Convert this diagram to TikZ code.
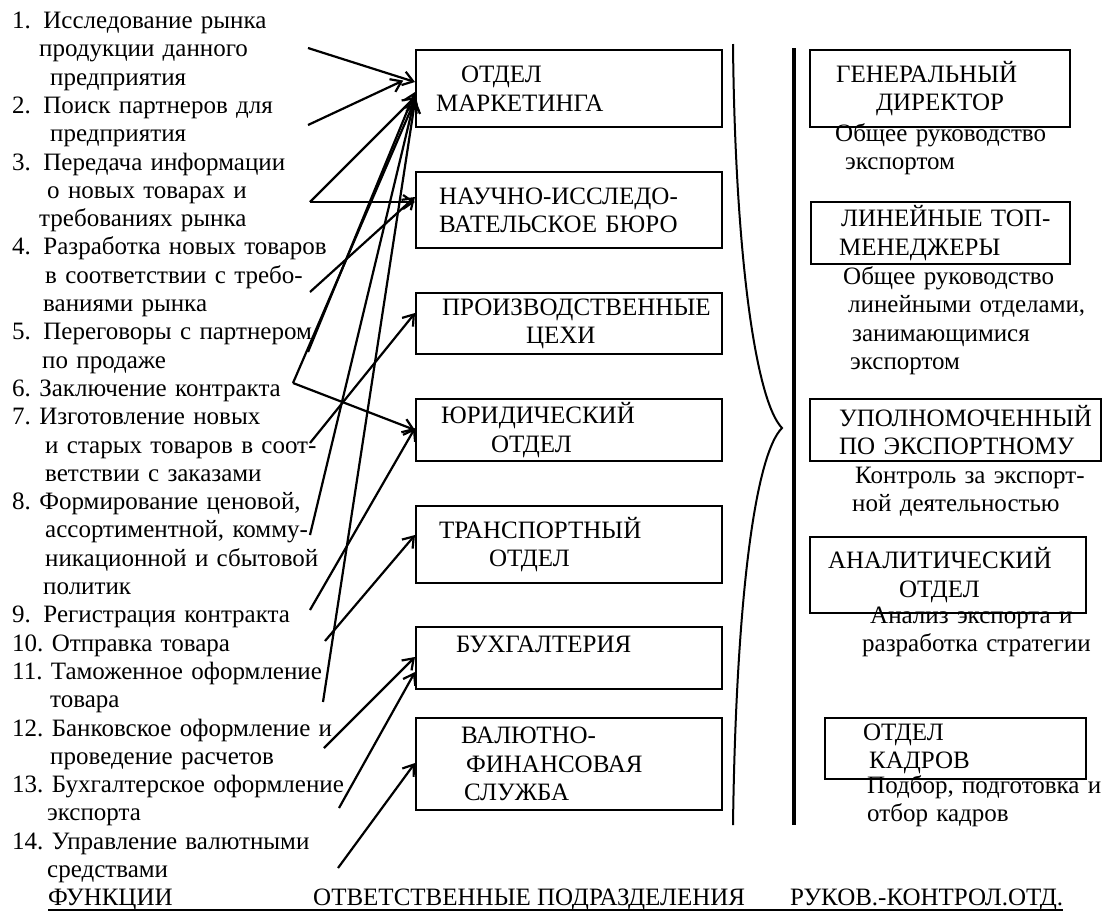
\documentclass[tikz,border=0pt]{standalone}
\usepackage{fontspec}
\setmainfont{Liberation Serif}
\usetikzlibrary{arrows.meta,calc}

\begin{document}
\frenchspacing
\begin{tikzpicture}[
    x=1pt, y=-1pt,
    every node/.style={font=\fontsize{25}{28.3}\selectfont},
    unit/.style={draw, line width=2.2pt, anchor=north west, align=left, inner xsep=8pt, inner ysep=0pt},
    func/.style={anchor=base west, inner sep=0pt, text width=380pt, align=left},
    note/.style={anchor=base west, inner sep=0pt, text width=275pt, align=left},
    arr/.style={-{Straight Barb[length=10pt,width=14pt]}, line width=2.2pt}
]
\useasboundingbox (0,0) rectangle (1106,914);

% Functions
\node[func] (f1) at (12,28.5) {1.\ \,Исследование рынка\\\hspace*{27pt}продукции данного\\\hspace*{38pt}предприятия};
\node[func] (f2) at (12,113.4) {2.\ \,Поиск партнеров для\\\hspace*{38pt}предприятия};
\node[func] (f3) at (12,170.0) {3.\ \,Передача информации\\\hspace*{35pt}о новых товарах и\\\hspace*{27pt}требованиях рынка};
\node[func] (f4) at (12,254.9) {4.\ \,Разработка новых товаров\\\hspace*{33pt}в соответствии с требо-\\\hspace*{31pt}ваниями рынка};
\node[func] (f5) at (12,339.8) {5.\ \,Переговоры с партнером\\\hspace*{30pt}по продаже};
\node[func] (f6) at (12,396.4) {6. Заключение контракта};
\node[func] (f7) at (12,424.7) {7. Изготовление новых\\\hspace*{33pt}и старых товаров в соот-\\\hspace*{33pt}ветствии с заказами};
\node[func] (f8) at (12,509.6) {8. Формирование ценовой,\\\hspace*{33pt}ассортиментной, комму-\\\hspace*{33pt}никационной и сбытовой\\\hspace*{31pt}политик};
\node[func] (f9) at (12,622.8) {9.\ \,Регистрация контракта};
\node[func] (f10) at (12,651.1) {10. Отправка товара};
\node[func] (f11) at (12,679.4) {11. Таможенное оформление\\\hspace*{38pt}товара};
\node[func] (f12) at (12,736.0) {12. Банковское оформление и\\\hspace*{38pt}проведение расчетов};
\node[func] (f13) at (12,792.6) {13. Бухгалтерское оформление\\\hspace*{35pt}экспорта};
\node[func] (f14) at (12,849.2) {14. Управление валютными\\\hspace*{35pt}средствами};

% Responsible units
\node[unit, text width=290pt, minimum height=77pt] (mkt) at (415,49) {\hspace*{37pt}ОТДЕЛ\\\hspace*{12pt}МАРКЕТИНГА};
\node[unit, text width=290pt, minimum height=76pt] (nib) at (415,171) {\hspace*{15pt}НАУЧНО-ИССЛЕДО-\\\hspace*{15pt}ВАТЕЛЬСКОЕ БЮРО};
\node[unit, text width=290pt, minimum height=61pt] (prod) at (415,292) {\hspace*{18pt}ПРОИЗВОДСТВЕННЫЕ\\\hspace*{102pt}ЦЕХИ};
\node[unit, text width=290pt, minimum height=62pt] (jur) at (415,398) {\hspace*{17pt}ЮРИДИЧЕСКИЙ\\\hspace*{67pt}ОТДЕЛ};
\node[unit, text width=290pt, minimum height=77pt] (trans) at (415,505) {\hspace*{15pt}ТРАНСПОРТНЫЙ\\\hspace*{65pt}ОТДЕЛ};
\node[unit, text width=290pt, minimum height=62pt] (buh) at (415,626) {\hspace*{32pt}БУХГАЛТЕРИЯ\\\mbox{}};
\node[unit, text width=290pt, minimum height=92pt] (val) at (415,717) {\hspace*{37pt}ВАЛЮТНО-\\\hspace*{42pt}ФИНАНСОВАЯ\\\hspace*{40pt}СЛУЖБА};

% Management and control
\node[unit, text width=244pt, minimum height=77pt] (gendir) at (809,49) {\hspace*{18pt}ГЕНЕРАЛЬНЫЙ\\\hspace*{58pt}ДИРЕКТОР};
\node[unit, text width=243pt, minimum height=62pt] (topm) at (810,201) {\hspace*{22pt}ЛИНЕЙНЫЕ ТОП-\\\hspace*{20pt}МЕНЕДЖЕРЫ};
\node[unit, text width=275pt, minimum height=62pt] (upol) at (809,398) {\hspace*{21pt}УПОЛНОМОЧЕННЫЙ\\\hspace*{21pt}ПО ЭКСПОРТНОМУ};
\node[unit, text width=260pt, minimum height=76pt] (anal) at (809,536) {\hspace*{10pt}АНАЛИТИЧЕСКИЙ\\\hspace*{81pt}ОТДЕЛ};
\node[unit, text width=245pt, minimum height=61pt] (kadr) at (824,717) {\hspace*{30pt}ОТДЕЛ\\\hspace*{36pt}КАДРОВ};

\node[note] (gendirnote) at (835,141.5) {Общее руководство\\\hspace*{10pt}экспортом};
\node[note] (topmnote) at (843,284.5) {Общее руководство\\\hspace*{5pt}линейными отделами,\\\hspace*{9pt}занимающимися\\\hspace*{7pt}экспортом};
\node[note] (upolnote) at (852,483.5) {\hspace*{3pt}Контроль за экспорт-\\ной деятельностью};
\node[note] (analnote) at (862,623.5) {\hspace*{8pt}Анализ экспорта и\\разработка стратегии};
\node[note] (kadrnote) at (867,793.5) {Подбор, подготовка и\\отбор кадров};

% Column titles
\node[anchor=base west, inner sep=0pt] (fn) at (48,905.8) {ФУНКЦИИ};
\node[anchor=base west, inner sep=0pt] (otv) at (313,905.8) {ОТВЕТСТВЕННЫЕ ПОДРАЗДЕЛЕНИЯ};
\node[anchor=base west, inner sep=0pt] (ruk) at (790,905.8) {РУКОВ.-КОНТРОЛ.ОТД.};
\draw[line width=1.6pt] ([yshift=-4pt]fn.base west) -- ([yshift=-4pt]ruk.base east);

% Brace and bar
\draw[line width=2pt] (733,44) .. controls (735,250) and (755,400) .. (782,428) .. controls (755,455) and (736,600) .. (733,825);
\draw[line width=4.5pt] (794,48) -- (794,825);

% Arrow start points
\coordinate (s1) at (308,48);
\coordinate (s2) at (308,125);
\coordinate (s3) at (310,202);
\coordinate (s4) at (310,292);
\coordinate (s5) at (308,352);
\coordinate (s6) at (293,383);
\coordinate (s7) at (310,443);
\coordinate (s8) at (310,535);
\coordinate (s9) at (310,610);
\coordinate (s10) at (325,641);
\coordinate (s11) at (323,702);
\coordinate (s12) at (324,748);
\coordinate (s13) at (339,808);
\coordinate (s14) at (338,868);

% Arrows
\draw[arr] (s1) -- ($(mkt.north west)+(0,33)$);
\draw[arr, shorten >=13pt] (s2) -- ($(mkt.north west)+(0,26)$);
\draw[arr] (s3) -- ($(mkt.north west)+(0,48)$);
\draw[arr] (s3) -- (s3 -| nib.west);
\draw[arr] (s4) -- ($(nib.north west)+(0,26)$);
\draw[arr] (s5) -- ($(mkt.north west)+(0,43)$);
\draw[arr] (s6) -- ($(mkt.north west)+(0,51)$);
\draw[arr] (s6) -- ($(jur.north west)+(0,32)$);
\draw[arr] (s7) -- ($(prod.north west)+(0,21)$);
\draw[arr] (s8) -- ($(mkt.north west)+(0,49)$);
\draw[arr] (s9) -- ($(jur.north west)+(0,30)$);
\draw[arr] (s10) -- ($(trans.north west)+(0,30)$);
\draw[arr] (s11) -- ($(mkt.north west)+(0,52)$);
\draw[arr] (s12) -- ($(buh.north west)+(0,31)$);
\draw[arr] (s13) -- ($(buh.north west)+(0,46)$);
\draw[arr] (s14) -- ($(val.north west)+(0,46)$);

\end{tikzpicture}
\end{document}
